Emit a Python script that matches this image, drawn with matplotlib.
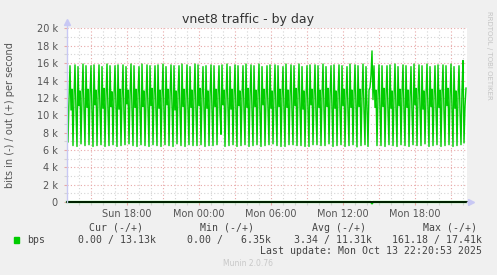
import numpy as np
import matplotlib
matplotlib.use("Agg")
import matplotlib.pyplot as plt
from matplotlib.patches import Rectangle

W, H = 497, 275

# out (+) traffic in kbit/s, one sample per 5 minutes, starting Sun 13:00
out_kbps = [
    14.0, 6.9, 11.8, 15.7, 10.6, 13.0, 6.5, 12.3,
    15.8, 10.4, 6.4, 15.6, 11.1, 12.8, 6.7, 12.1,
    15.9, 10.7, 6.5, 15.7, 10.9, 13.0, 6.6, 12.4,
    15.7, 10.3, 6.4, 15.8, 11.2, 12.9, 6.5, 12.0,
    15.8, 10.6, 6.6, 15.6, 10.8, 13.1, 6.4, 12.2,
    15.9, 10.5, 6.5, 15.7, 11.0, 12.7, 6.6, 12.3,
    15.7, 10.8, 6.4, 15.8, 10.7, 13.0, 6.5, 12.1,
    15.8, 10.2, 6.6, 15.6, 11.3, 12.9, 6.7, 12.2,
    15.9, 10.6, 6.5, 15.7, 10.9, 13.0, 6.4, 12.4,
    15.6, 10.4, 6.6, 15.9, 11.0, 12.8, 6.5, 12.0,
    15.8, 10.7, 6.4, 15.7, 11.1, 13.1, 6.6, 12.3,
    15.7, 10.5, 6.5, 15.8, 10.8, 12.9, 6.4, 12.1,
    15.9, 10.3, 6.6, 15.6, 11.2, 13.0, 6.5, 12.2,
    15.8, 10.9, 6.4, 15.7, 10.6, 12.8, 6.7, 12.4,
    15.7, 10.5, 6.5, 15.9, 11.0, 13.0, 6.4, 12.0,
    15.8, 10.6, 6.6, 15.6, 10.9, 12.9, 6.5, 12.3,
    15.9, 10.4, 6.5, 15.8, 11.1, 13.1, 6.6, 12.1,
    15.6, 10.7, 6.4, 15.7, 10.8, 12.8, 6.5, 12.2,
    15.8, 10.5, 6.5, 15.7, 11.0, 13.0, 6.6, 12.4,
    15.7, 10.3, 7.8, 15.8, 11.2, 12.9, 6.4, 12.0,
    15.9, 10.8, 6.5, 15.6, 10.7, 13.0, 6.6, 12.3,
    15.8, 10.4, 6.4, 15.7, 11.1, 12.8, 6.5, 12.1,
    15.7, 10.6, 6.6, 15.9, 10.9, 13.1, 6.4, 12.2,
    15.8, 10.5, 6.5, 15.7, 11.0, 12.9, 6.6, 12.4,
    15.9, 10.2, 6.4, 15.6, 11.2, 13.0, 6.5, 12.0,
    15.7, 10.7, 6.6, 15.8, 10.8, 12.8, 6.7, 12.3,
    15.8, 10.5, 6.5, 15.7, 11.0, 13.0, 6.4, 12.1,
    15.6, 10.6, 6.4, 15.9, 10.9, 12.9, 6.6, 12.2,
    15.8, 10.4, 6.6, 15.7, 11.1, 13.1, 6.5, 12.4,
    15.9, 10.8, 6.5, 15.6, 10.7, 12.8, 6.4, 12.0,
    15.7, 10.5, 6.4, 15.8, 11.2, 13.0, 6.6, 12.3,
    15.8, 10.3, 6.6, 15.7, 10.9, 12.9, 6.5, 12.1,
    15.9, 10.6, 6.5, 15.6, 11.0, 13.1, 6.7, 12.2,
    15.7, 10.7, 6.4, 15.8, 10.8, 12.8, 6.5, 12.4,
    15.8, 10.5, 6.6, 15.7, 11.1, 13.0, 6.4, 12.0,
    15.6, 10.4, 6.5, 15.9, 10.9, 12.9, 6.6, 12.3,
    15.8, 10.8, 6.35, 15.7, 11.0, 13.0, 6.5, 12.1,
    15.9, 10.5, 6.6, 15.6, 11.2, 6.4, 12.9, 13.2,
    14.6, 17.41, 11.8, 15.7, 10.9, 12.9, 6.5, 12.2,
    15.8, 10.6, 6.5, 15.7, 11.0, 13.1, 6.4, 12.3,
    15.7, 10.4, 6.6, 15.8, 10.8, 12.8, 6.5, 12.1,
    15.9, 10.7, 6.4, 15.6, 11.1, 13.0, 6.6, 12.4,
    15.8, 10.5, 6.5, 15.7, 10.9, 12.9, 6.4, 12.0,
    15.6, 10.3, 6.6, 15.9, 11.2, 13.1, 6.5, 12.2,
    15.8, 10.8, 6.5, 15.7, 10.7, 12.8, 6.7, 12.3,
    15.9, 10.5, 6.4, 15.6, 11.0, 13.0, 6.5, 12.1,
    15.7, 10.6, 6.6, 15.8, 10.9, 12.9, 6.4, 12.4,
    15.8, 10.4, 6.5, 15.7, 11.1, 13.1, 6.6, 12.0,
    15.9, 10.7, 6.4, 15.6, 10.8, 12.8, 6.5, 12.2,
    15.7, 10.5, 6.6, 12.9, 16.3, 6.8, 11.0, 13.13,
]
# in (-) traffic is zero except one small burst (max 161.18 bps)
in_burst_index = 305
in_burst_kbps = 0.161

start_hour = 13.0          # Sun 13:00, hours counted from Sun 00:00
step_hours = 5 / 60
span_hours = 400 / 12

tick_hours = [18, 24, 30, 36, 42]
tick_labels = ["Sun 18:00", "Mon 00:00", "Mon 06:00", "Mon 12:00", "Mon 18:00"]
ytick_values = [0, 2, 4, 6, 8, 10, 12, 14, 16, 18, 20]
ytick_labels = ["0", "2 k", "4 k", "6 k", "8 k", "10 k", "12 k", "14 k", "16 k", "18 k", "20 k"]

legend_heads = ["Cur (-/+)", "Min (-/+)", "Avg (-/+)", "Max (-/+)"]
legend_values = ["0.00 / 13.13k", "0.00 /   6.35k", "3.34 / 11.31k", "161.18 / 17.41k"]

GREEN = "#00cc00"
MAJOR = "#e8a8a8"
MINOR = "#d4d4d4"
AXIS = "#c8c8f4"
TXT = "#555555"


def fx(x):
    return x / W


def fy(y):
    return 1 - y / H


fig = plt.figure(figsize=(W / 100, H / 100), dpi=100, facecolor="#f0f0f0")
ax = fig.add_axes([fx(67), fy(202), 400 / W, 174 / H])
ax.set_facecolor("white")

t = start_hour + step_hours * np.arange(len(out_kbps))
in_kbps = np.zeros(len(out_kbps))
in_kbps[in_burst_index] = in_burst_kbps

x0, x1 = start_hour, start_hour + span_hours
ax.set_xlim(x0, x1)
ax.set_ylim(0, 20.05)

# grid
for h in range(14, 47):
    major = h % 3 == 0
    ax.axvline(h, color=MAJOR if major else MINOR, lw=0.8,
               ls=(0, (1, 2)), zorder=1)
for v in range(1, 21):
    major = v % 2 == 0
    ax.axhline(v, color=MAJOR if major else MINOR, lw=0.8,
               ls=(0, (1, 2)), zorder=1)

ax.plot(t, out_kbps, color=GREEN, lw=1.0, zorder=3)
ax.plot(t, -in_kbps, color=GREEN, lw=1.6, zorder=2, clip_on=False)

# zero line and axes
ax.plot([x0, x1], [0, 0], color="black", lw=1.2, zorder=4, clip_on=False)
ax.plot([x1, x1 + 0.3], [0, 0], color=AXIS, lw=1.0, zorder=4, clip_on=False)
ax.plot([x1 + 0.35], [0], marker=">", ms=4, color=AXIS, clip_on=False, zorder=4)
ax.plot([x0, x0], [0, 20.6], color=AXIS, lw=1.0, zorder=4, clip_on=False)
ax.plot([x0], [20.75], marker="^", ms=4, color=AXIS, clip_on=False, zorder=4)

for s in ax.spines.values():
    s.set_visible(False)

ax.set_xticks(tick_hours)
ax.set_xticklabels(tick_labels)
ax.set_xticks(range(14, 47), minor=True)
ax.set_yticks(ytick_values)
ax.set_yticklabels(ytick_labels)
ax.set_yticks(range(0, 21), minor=True)
ax.tick_params(axis="both", which="both", labelsize=7, labelcolor=TXT,
               length=2, width=0.8, color=MINOR)
ax.tick_params(axis="x", which="major", pad=3, color=MAJOR)
ax.tick_params(axis="y", which="major", pad=4.5, color=MAJOR)

fig.text(fx(10), fy(115), "bits in (-) / out (+) per second", fontsize=7,
         color=TXT, rotation=90, ha="center", va="center")

fig.text(fx(248), fy(19), "vnet8 traffic - by day", fontsize=9,
         color="#333333", ha="center", va="center")
fig.text(fx(489), fy(55), "RRDTOOL / TOBI OETIKER", fontsize=5,
         color="#c4c4c4", rotation=270, ha="center", va="center")

# legend block
mono = "DejaVu Sans Mono"
for x, s in zip([89, 200, 312, 423], legend_heads):
    fig.text(fx(x), fy(228), s, family=mono, fontsize=7.1, color="#444444",
             ha="left", va="center")
fig.patches.append(Rectangle((fx(14), fy(243)), 5 / W, 6 / H,
                             transform=fig.transFigure, color=GREEN))
fig.text(fx(27), fy(240), "bps", family=mono, fontsize=7.1, color="#444444",
         ha="left", va="center")
for x, s in zip([78, 187, 294, 392], legend_values):
    fig.text(fx(x), fy(240), s, family=mono, fontsize=7.1, color="#444444",
             ha="left", va="center")
fig.text(fx(482), fy(251), "Last update: Mon Oct 13 22:20:53 2025",
         family=mono, fontsize=7.1, color="#444444", ha="right", va="center")
fig.text(fx(248), fy(264), "Munin 2.0.76", fontsize=5.5, color="#c8c8c8",
         ha="center", va="center")

fig.savefig("out.png", dpi=100, facecolor=fig.get_facecolor())
